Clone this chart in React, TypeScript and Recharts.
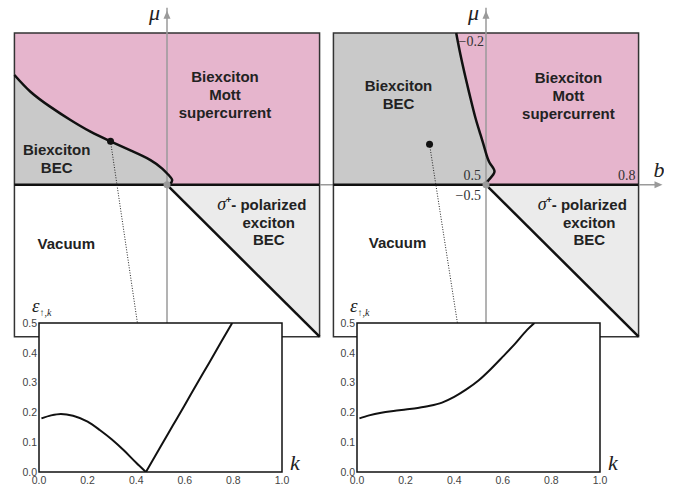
import { Area, ComposedChart, Line, ReferenceArea, ReferenceDot, XAxis, YAxis } from 'recharts';

// phase diagram coordinates: b (horizontal), mu (vertical)
const boxB = [0.2, 0.8];
const boxMu = [-0.8, -0.2];
const originB = 0.5;
const originMu = -0.5;
const muArrowTip = -0.156;
const bArrowTipRight = 0.847;
const bAxisEndLeft = 0.828;

// boundary between biexciton BEC and Mott supercurrent, left diagram
const leftBoundary = [
  { b: 0.2, m: -0.283 },
  { b: 0.2315, m: -0.316 },
  { b: 0.2708, m: -0.346 },
  { b: 0.3102, m: -0.372 },
  { b: 0.3495, m: -0.395 },
  { b: 0.3888, m: -0.414 },
  { b: 0.4282, m: -0.432 },
  { b: 0.4675, m: -0.451 },
  { b: 0.4906, m: -0.468 },
  { b: 0.5035, m: -0.481 },
  { b: 0.5102, m: -0.491 },
  { b: 0.5049, m: -0.499 },
  { b: 0.5, m: -0.5 },
];

// same boundary, right diagram
const rightBoundary = [
  { b: 0.4414, m: -0.2 },
  { b: 0.4498, m: -0.243 },
  { b: 0.46, m: -0.289 },
  { b: 0.4695, m: -0.329 },
  { b: 0.4793, m: -0.368 },
  { b: 0.4892, m: -0.401 },
  { b: 0.499, m: -0.434 },
  { b: 0.5075, m: -0.457 },
  { b: 0.5167, m: -0.474 },
  { b: 0.5055, m: -0.49 },
  { b: 0.501, m: -0.497 },
  { b: 0.5, m: -0.5 },
];

// chosen points whose spectra are shown in the insets, and where the dotted leader meets the inset
const leftProbe = [
  { b: 0.389, m: -0.414 },
  { b: 0.442, m: -0.774 },
];
const rightProbe = [
  { b: 0.389, m: -0.42 },
  { b: 0.444, m: -0.774 },
];

// inset spectra eps(k)
const leftSpectrum = [
  { k: 0.01, e: 0.18 },
  { k: 0.05, e: 0.19 },
  { k: 0.09, e: 0.195 },
  { k: 0.14, e: 0.189 },
  { k: 0.2, e: 0.169 },
  { k: 0.25, e: 0.141 },
  { k: 0.3, e: 0.109 },
  { k: 0.35, e: 0.072 },
  { k: 0.4, e: 0.031 },
  { k: 0.44, e: 0.0 },
  { k: 0.5, e: 0.085 },
  { k: 0.55, e: 0.155 },
  { k: 0.6, e: 0.225 },
  { k: 0.65, e: 0.296 },
  { k: 0.7, e: 0.366 },
  { k: 0.75, e: 0.437 },
  { k: 0.795, e: 0.5 },
];
const leftMinimumK = 0.44;

const rightSpectrum = [
  { k: 0.01, e: 0.18 },
  { k: 0.05, e: 0.19 },
  { k: 0.1, e: 0.199 },
  { k: 0.15, e: 0.205 },
  { k: 0.2, e: 0.21 },
  { k: 0.25, e: 0.215 },
  { k: 0.3, e: 0.222 },
  { k: 0.35, e: 0.233 },
  { k: 0.4, e: 0.252 },
  { k: 0.45, e: 0.277 },
  { k: 0.5, e: 0.307 },
  { k: 0.55, e: 0.345 },
  { k: 0.6, e: 0.387 },
  { k: 0.65, e: 0.43 },
  { k: 0.7, e: 0.477 },
  { k: 0.73, e: 0.5 },
];

const kTicks = [0, 0.2, 0.4, 0.6, 0.8, 1.0];
const eTicks = [0, 0.1, 0.2, 0.3, 0.4, 0.5];

const PINK = '#e6b5cd';
const GREY = '#c9c9c9';
const LIGHT = '#ebebeb';
const AXIS = '#9a9a9a';
const SERIF = '"Liberation Serif", "DejaVu Serif", serif';

const mottRegion = [
  { b: boxB[0], m: boxMu[1] },
  { b: boxB[1], m: boxMu[1] },
];
const excitonRegion = [
  { b: originB, m: originMu },
  { b: boxB[1], m: boxMu[0] },
];
const zeroLine = [
  { b: boxB[0], m: originMu },
  { b: boxB[1], m: originMu },
];
const muAxis = [
  { b: originB, m: boxMu[0] },
  { b: originB, m: muArrowTip + 0.01 },
];

function regionLabel(lines: string[], lineGap = 18) {
  return (p: any) => (
    <text x={p.cx} y={p.cy} textAnchor="middle" fontSize={15} fontWeight="bold" fill="#222">
      {lines.map((l, i) => (
        <tspan key={i} x={p.cx} dy={i === 0 ? 0 : lineGap}>
          {l}
        </tspan>
      ))}
    </text>
  );
}

function sigmaLabel(p: any) {
  return (
    <text x={p.cx} y={p.cy} textAnchor="middle" fontSize={15} fontWeight="bold" fill="#222">
      <tspan x={p.cx - 7}>
        <tspan fontFamily={SERIF} fontStyle="italic" fontWeight="normal" fontSize={18}>σ</tspan>
        <tspan fontSize={9} dy={-7}>+</tspan>
        <tspan dy={7}>- polarized</tspan>
      </tspan>
      <tspan x={p.cx} dy={17.5}>exciton</tspan>
      <tspan x={p.cx} dy={17.5}>BEC</tspan>
    </text>
  );
}

function serifText(text: string, dx: number, dy: number, anchor: string, size = 14, italic = false) {
  return (p: any) => (
    <text
      x={p.cx + dx}
      y={p.cy + dy}
      textAnchor={anchor}
      fontFamily={SERIF}
      fontSize={size}
      fontStyle={italic ? 'italic' : 'normal'}
      fill={italic ? '#222' : '#333'}
    >
      {text}
    </text>
  );
}

const upArrow = (p: any) => (
  <polygon points={`${p.cx},${p.cy} ${p.cx - 3.5},${p.cy + 8} ${p.cx + 3.5},${p.cy + 8}`} fill={AXIS} />
);
const rightArrow = (p: any) => (
  <polygon points={`${p.cx},${p.cy} ${p.cx - 8},${p.cy - 3.5} ${p.cx - 8},${p.cy + 3.5}`} fill={AXIS} />
);

interface PhaseProps {
  left: number;
  boundary: { b: number; m: number }[];
  becRegion: { b: number; m: number }[];
  probe: { b: number; m: number }[];
  bAxisEnd: number;
  withTicks: boolean;
  mottAt: [number, number];
  becAt: [number, number];
  vacuumAt: [number, number];
  sigmaAt: [number, number];
}

function PhaseDiagram(props: PhaseProps) {
  const { left, boundary, becRegion, probe, bAxisEnd, withTicks } = props;
  const bAxis = [
    { b: boxB[1], m: originMu },
    { b: bAxisEnd, m: originMu },
  ];
  return (
    <div style={{ position: 'absolute', left, top: 0 }}>
      <ComposedChart width={356} height={362} margin={{ top: 7.7, right: 0, bottom: 0, left: 0 }}>
        <XAxis type="number" dataKey="b" domain={[0.15, 0.85]} hide allowDataOverflow />
        <YAxis type="number" dataKey="m" domain={[-0.85, -0.15]} hide allowDataOverflow />
        <Area data={mottRegion} dataKey="m" type="linear" baseValue={originMu} fill={PINK} fillOpacity={1} stroke="none" isAnimationActive={false} />
        <Area data={becRegion} dataKey="m" type="linear" baseValue={originMu} fill={GREY} fillOpacity={1} stroke="none" isAnimationActive={false} />
        <Area data={excitonRegion} dataKey="m" type="linear" baseValue={originMu} fill={LIGHT} fillOpacity={1} stroke="none" isAnimationActive={false} />
        <Line data={muAxis} dataKey="m" stroke={AXIS} strokeWidth={1.5} dot={false} activeDot={false} isAnimationActive={false} />
        <Line data={bAxis} dataKey="m" stroke={AXIS} strokeWidth={1.5} dot={false} activeDot={false} isAnimationActive={false} />
        <Line data={zeroLine} dataKey="m" stroke="#111" strokeWidth={2.5} dot={false} activeDot={false} isAnimationActive={false} />
        <Line data={excitonRegion} dataKey="m" stroke="#111" strokeWidth={2.5} dot={false} activeDot={false} isAnimationActive={false} />
        <Line data={boundary} dataKey="m" type="natural" stroke="#111" strokeWidth={2.5} dot={false} activeDot={false} isAnimationActive={false} />
        <Line data={probe} dataKey="m" stroke="#222" strokeWidth={1} strokeDasharray="1 1.6" dot={false} activeDot={false} isAnimationActive={false} />
        <ReferenceArea x1={boxB[0]} x2={boxB[1]} y1={boxMu[0]} y2={boxMu[1]} fill="none" stroke="#333" strokeWidth={1.5} />
        <ReferenceDot x={originB} y={originMu} r={3.5} fill={AXIS} stroke="none" />
        <ReferenceDot x={probe[0].b} y={probe[0].m} r={3.5} fill="#111" stroke="none" />
        <ReferenceDot x={originB} y={muArrowTip} r={0} shape={upArrow} />
        <ReferenceDot x={originB} y={muArrowTip} r={0} shape={serifText('μ', -7, 9, 'end', 22, true)} />
        <ReferenceDot x={props.mottAt[0]} y={props.mottAt[1]} r={0} shape={regionLabel(['Biexciton', 'Mott', 'supercurrent'])} />
        <ReferenceDot x={props.becAt[0]} y={props.becAt[1]} r={0} shape={regionLabel(['Biexciton', 'BEC'])} />
        <ReferenceDot x={props.vacuumAt[0]} y={props.vacuumAt[1]} r={0} shape={regionLabel(['Vacuum'])} />
        <ReferenceDot x={props.sigmaAt[0]} y={props.sigmaAt[1]} r={0} shape={sigmaLabel} />
        {withTicks && <ReferenceDot x={bArrowTipRight} y={originMu} r={0} shape={rightArrow} />}
        {withTicks && <ReferenceDot x={boxB[1]} y={originMu} r={0} shape={serifText('b', 15, -8, 'start', 22, true)} />}
        {withTicks && <ReferenceDot x={boxB[1]} y={originMu} r={0} shape={serifText('0.8', -3, -5, 'end')} />}
        {withTicks && <ReferenceDot x={originB} y={originMu} r={0} shape={serifText('0.5', -5, -5, 'end')} />}
        {withTicks && <ReferenceDot x={originB} y={originMu} r={0} shape={serifText('−0.5', -5, 15, 'end')} />}
        {withTicks && <ReferenceDot x={originB} y={boxMu[1]} r={0} shape={serifText('−0.2', -2, 13, 'end')} />}
      </ComposedChart>
    </div>
  );
}

function Inset({ left, children }: { left: number; children: any }) {
  const frame = [
    { k: 0, e: 0.5 },
    { k: 1, e: 0.5 },
  ];
  return (
    <div style={{ position: 'absolute', left, top: 293 }}>
      <ComposedChart width={301} height={197} margin={{ top: 30, right: 30, bottom: 0, left: 0 }}>
        <XAxis
          type="number"
          dataKey="k"
          domain={[0, 1]}
          ticks={kTicks}
          tickFormatter={(v: number) => v.toFixed(1)}
          tickLine={false}
          axisLine={false}
          tickSize={3}
          tickMargin={2}
          height={18}
          tick={{ fontSize: 10.5, fill: '#444' }}
          allowDataOverflow
        />
        <YAxis
          type="number"
          dataKey="e"
          domain={[0, 0.5]}
          ticks={eTicks}
          tickFormatter={(v: number) => v.toFixed(1)}
          tickLine={false}
          axisLine={false}
          tickSize={1}
          tickMargin={1}
          width={28}
          tick={{ fontSize: 10.5, fill: '#444' }}
          allowDataOverflow
        />
        <Area data={frame} dataKey="e" type="linear" baseValue={0} fill="#fff" fillOpacity={1} stroke="none" isAnimationActive={false} />
        <ReferenceArea x1={0} x2={1} y1={0} y2={0.5} fill="none" stroke="#111" strokeWidth={1.5} />
        {children}
        <ReferenceDot x={0} y={0.5} r={0} shape={(p: any) => (
          <text x={p.cx - 7} y={p.cy - 11} fontFamily={SERIF} fill="#222">
            <tspan fontSize={19} fontStyle="italic">ε</tspan>
            <tspan fontSize={10} dy={4}>↑,</tspan>
            <tspan fontSize={10} fontStyle="italic">k</tspan>
          </text>
        )} />
        <ReferenceDot x={1} y={0} r={0} shape={serifText('k', 8, -2, 'start', 22, true)} />
      </ComposedChart>
    </div>
  );
}

export default function App() {
  const leftBec = [{ b: boxB[0], m: originMu }, ...leftBoundary];
  const rightBec = [{ b: boxB[0], m: boxMu[1] }, ...rightBoundary];
  return (
    <div
      style={{
        position: 'absolute',
        left: 0,
        top: 0,
        width: 684,
        height: 487,
        overflow: 'hidden',
        background: '#fff',
        fontFamily: '"Liberation Sans", Arial, sans-serif',
      }}
    >
      <PhaseDiagram
        left={-11.4}
        boundary={leftBoundary}
        becRegion={leftBec}
        probe={leftProbe}
        bAxisEnd={bAxisEndLeft}
        withTicks={false}
        mottAt={[0.614, -0.297]}
        becAt={[0.283, -0.441]}
        vacuumAt={[0.302, -0.627]}
        sigmaAt={[0.7, -0.55]}
      />
      <PhaseDiagram
        left={307.6}
        boundary={rightBoundary}
        becRegion={rightBec}
        probe={rightProbe}
        bAxisEnd={bArrowTipRight - 0.01}
        withTicks
        mottAt={[0.662, -0.299]}
        becAt={[0.328, -0.315]}
        vacuumAt={[0.326, -0.625]}
        sigmaAt={[0.703, -0.55]}
      />
      <Inset left={11.4}>
        <Line data={leftSpectrum.filter((d) => d.k <= leftMinimumK)} dataKey="e" type="monotone" stroke="#111" strokeWidth={2} dot={false} activeDot={false} isAnimationActive={false} />
        <Line data={leftSpectrum.filter((d) => d.k >= leftMinimumK)} dataKey="e" type="monotone" stroke="#111" strokeWidth={2} dot={false} activeDot={false} isAnimationActive={false} />
      </Inset>
      <Inset left={329.3}>
        <Line data={rightSpectrum} dataKey="e" type="monotone" stroke="#111" strokeWidth={2} dot={false} activeDot={false} isAnimationActive={false} />
      </Inset>
    </div>
  );
}
